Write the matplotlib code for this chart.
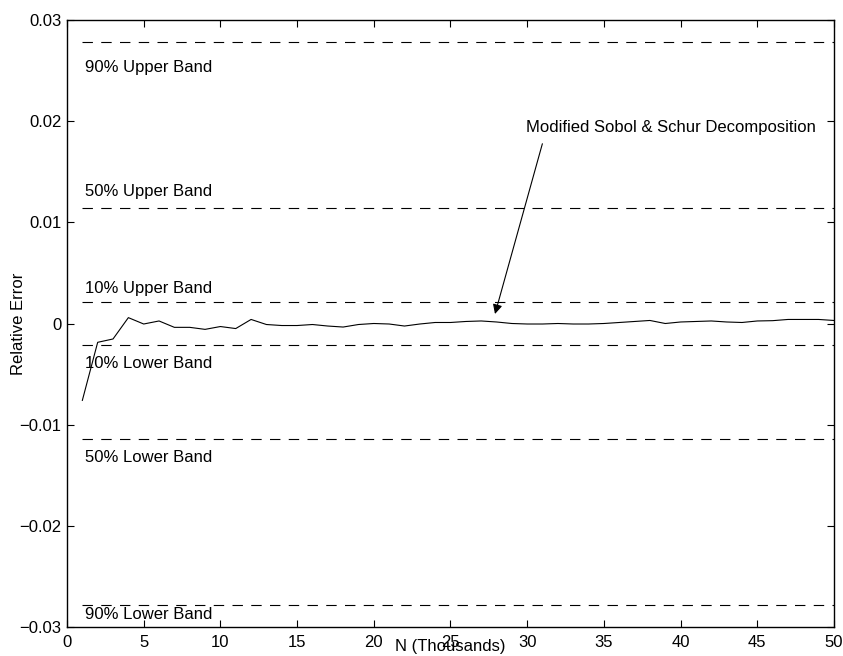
import matplotlib
matplotlib.use("Agg")
import matplotlib.pyplot as plt
import numpy as np

plt.rcParams['font.family'] = ['Liberation Sans', 'DejaVu Sans']
plt.rcParams['lines.scale_dashes'] = False

n_thousands = list(range(1, 51))
rel_error = [-0.0076, -0.00186, -0.00153, 0.00058, -0.00005, 0.00025, -0.00038, -0.00038,
             -0.00058, -0.0003, -0.0005, 0.0004, -0.0001, -0.0002, -0.0002, -0.0001,
             -0.00025, -0.00035, -0.0001, 0.0, -0.00005, -0.00025, -0.00005, 0.0001,
             0.0001, 0.0002, 0.00025, 0.00015, 0.0, -0.00005, -0.00005, 0.0, -0.00005,
             -0.00005, 0.0, 0.0001, 0.0002, 0.0003, 0.0, 0.00015, 0.0002, 0.00025,
             0.00015, 0.0001, 0.00025, 0.00028, 0.0004, 0.0004, 0.0004, 0.0003]

band_levels = [0.0278, 0.01143, 0.00213, -0.00213, -0.01143, -0.0278]
band_labels = ["90% Upper Band", "50% Upper Band", "10% Upper Band",
               "10% Lower Band", "50% Lower Band", "90% Lower Band"]
band_label_y = [0.0253, 0.0130, 0.0035, -0.0040, -0.0132, -0.0288]

x_ticks = list(range(0, 51, 5))
y_ticks = [-0.03, -0.02, -0.01, 0, 0.01, 0.02, 0.03]
y_tick_labels = ["\u22120.03", "\u22120.02", "\u22120.01", "0", "0.01", "0.02", "0.03"]

FS = 12

fig = plt.figure(figsize=(8.43, 6.56), dpi=100)
ax = fig.add_axes([67/843, 1 - 627/656, (834 - 67)/843, (627 - 20)/656])

ax.plot(n_thousands, rel_error, color='black', linewidth=0.8)
for lvl, lab, ly in zip(band_levels, band_labels, band_label_y):
    ax.plot([n_thousands[0], n_thousands[-1]], [lvl, lvl], color='black',
            linewidth=0.8, dashes=(7.5, 6.0))
    ax.text(1.2, ly, lab, fontsize=FS, ha='left', va='center')

ax.annotate("Modified Sobol & Schur Decomposition", xy=(27.9, 0.00094),
            xytext=(29.95, 0.0194), fontsize=FS, ha='left', va='center',
            arrowprops=dict(arrowstyle='-|>', color='black', lw=0.8,
                            mutation_scale=14, shrinkA=0, shrinkB=0,
                            relpos=(0.055, -0.6)))

ax.set_xlim(0, 50)
ax.set_ylim(-0.03, 0.03)
ax.set_xticks(x_ticks)
ax.set_xticklabels([str(v) for v in x_ticks], fontsize=FS)
ax.set_yticks(y_ticks)
ax.set_yticklabels(y_tick_labels, fontsize=FS)
ax.tick_params(direction='in', top=True, right=True, length=5, width=0.8)
ax.tick_params(axis='x', pad=6)
ax.tick_params(axis='y', pad=4)
for s in ax.spines.values():
    s.set_linewidth(1.0)

ax.set_xlabel("N (Thousands)", fontsize=FS, va='center')
ax.xaxis.set_label_coords(0.5, (627 - 647) / 607)
ax.set_ylabel("Relative Error", fontsize=FS, va='center')
ax.yaxis.set_label_coords((18 - 67) / 767, 0.5)

fig.savefig("out.png", dpi=100)
